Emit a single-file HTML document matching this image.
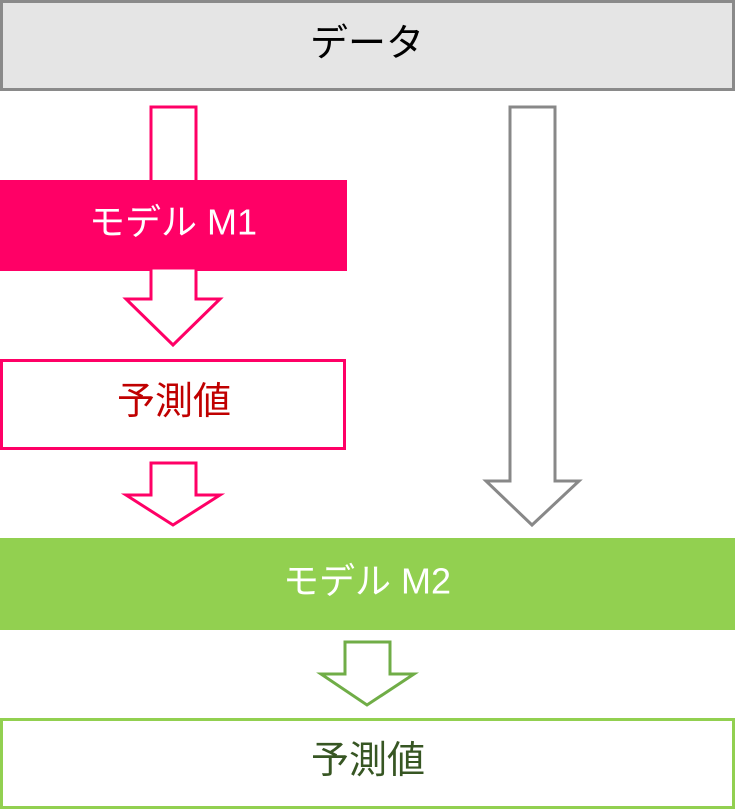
<!DOCTYPE html>
<html><head><meta charset="utf-8"><style>
html,body{margin:0;padding:0;background:#fff;}
svg{display:block;}
text{font-family:"Liberation Sans","Noto Sans CJK JP",sans-serif;text-anchor:middle;dominant-baseline:central;}
</style></head><body>
<svg width="735" height="810" viewBox="0 0 735 810" xmlns="http://www.w3.org/2000/svg">
<rect x="1.5" y="1.5" width="732" height="88" fill="#e5e5e5" stroke="#8a8a8a" stroke-width="3"/>
<text x="367" y="44" font-size="38" fill="#000">データ</text>

<polygon points="151,107 196,107 196,190 151,190" fill="#fff" stroke="#ff0066" stroke-width="3"/>
<rect x="0" y="180" width="347" height="91" fill="#ff0066"/>
<text x="173" y="222" font-size="36" fill="#fff">モデル M1</text>

<polygon points="151,268 196,268 196,299 220,299 173,345 126,299 151,299" fill="#fff" stroke="#ff0066" stroke-width="3"/>
<rect x="1.5" y="360.5" width="343" height="88" fill="#fff" stroke="#ff0066" stroke-width="3"/>
<text x="174" y="402" font-size="38" fill="#c00000">予測値</text>

<polygon points="151,463 196,463 196,495 220,495 173,525 126,495 151,495" fill="#fff" stroke="#ff0066" stroke-width="3"/>

<polygon points="510,107 555,107 555,481 579,481 532,525 486,481 510,481" fill="#fff" stroke="#888" stroke-width="3"/>

<rect x="0" y="538" width="735" height="92" fill="#92d050"/>
<text x="367" y="581" font-size="36" fill="#fff">モデル M2</text>

<polygon points="345,642 390,642 390,674 414,674 367,705 321,674 345,674" fill="#fff" stroke="#70ad47" stroke-width="3"/>
<rect x="1.5" y="719.5" width="732" height="88" fill="#fff" stroke="#92d050" stroke-width="3"/>
<text x="368" y="761" font-size="38" fill="#375623">予測値</text>
</svg>
</body></html>
